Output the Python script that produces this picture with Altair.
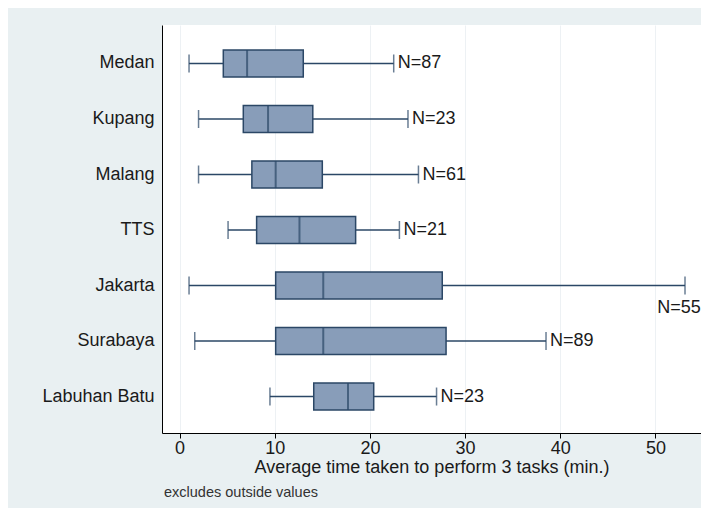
import altair as alt
import pandas as pd

cities = ["Medan", "Kupang", "Malang", "TTS", "Jakarta", "Surabaya", "Labuhan Batu"]
whisker_lo = [1.0, 2.0, 2.0, 5.1, 1.0, 1.6, 9.5]
q1 = [4.6, 6.7, 7.6, 8.1, 10.1, 10.1, 14.1]
median = [7.1, 9.3, 10.1, 12.6, 15.1, 15.1, 17.7]
q3 = [13.0, 14.0, 15.0, 18.5, 27.6, 28.0, 20.4]
whisker_hi = [22.5, 24.0, 25.1, 23.1, 53.1, 38.5, 27.0]
n_obs = [87, 23, 61, 21, 55, 89, 23]
label_below = ["Jakarta"]
x_ticks = [0, 10, 20, 30, 40, 50]

df = pd.DataFrame({
    "city": cities, "lo": whisker_lo, "q1": q1, "med": median,
    "q3": q3, "hi": whisker_hi, "n": n_obs,
})

FONT = "Liberation Sans"
TXT = "#1a1a1a"
FILL = "#889db9"
LINE = "#2b4766"
FS = 18

xs = alt.Scale(domain=[-1.84, 54.78], nice=False, zero=False)
ys = alt.Scale(domain=cities, paddingInner=0.5135, paddingOuter=0.432, align=0.521)

x_axis = alt.Axis(values=x_ticks, grid=True, gridColor="#edf1f4", domainColor="#000000",
                  tickColor="#000000", tickSize=5, labelFontSize=FS, labelFont=FONT,
                  labelColor=TXT, labelPadding=1, title="Average time taken to perform 3 tasks (min.)",
                  titleFont=FONT, titleFontSize=FS, titleFontWeight="normal", titleColor=TXT,
                  titlePadding=1)
y_axis = alt.Axis(title=None, ticks=False, labelFontSize=FS, labelFont=FONT, labelColor=TXT,
                  labelPadding=8, domainColor="#000000", grid=False)

base = alt.Chart(df)

whisk = base.mark_rule(color=LINE, strokeWidth=1.5).encode(
    x=alt.X("lo:Q", scale=xs, axis=x_axis), x2="hi:Q",
    y=alt.Y("city:N", scale=ys, axis=y_axis, sort=cities))

box = base.mark_bar(fill=FILL, stroke=LINE, strokeWidth=1.5).encode(
    x=alt.X("q1:Q", scale=xs), x2="q3:Q", y=alt.Y("city:N", scale=ys, sort=cities))

med = base.mark_tick(color=LINE, thickness=2, size=27).encode(
    x=alt.X("med:Q", scale=xs), y=alt.Y("city:N", scale=ys, sort=cities))

cap_lo = base.mark_tick(color=LINE, thickness=1.5, size=18).encode(
    x=alt.X("lo:Q", scale=xs), y=alt.Y("city:N", scale=ys, sort=cities))
cap_hi = base.mark_tick(color=LINE, thickness=1.5, size=18).encode(
    x=alt.X("hi:Q", scale=xs), y=alt.Y("city:N", scale=ys, sort=cities))

n_right = base.transform_filter(
    ~alt.FieldOneOfPredicate(field="city", oneOf=label_below)
).transform_calculate(lab="'N=' + datum.n").mark_text(
    align="left", baseline="middle", dx=4, font=FONT, fontSize=FS, color=TXT
).encode(x=alt.X("hi:Q", scale=xs), y=alt.Y("city:N", scale=ys, sort=cities), text="lab:N")

n_below = base.transform_filter(
    alt.FieldOneOfPredicate(field="city", oneOf=label_below)
).transform_calculate(lab="'N=' + datum.n").mark_text(
    align="center", baseline="middle", dy=22, dx=-6, font=FONT, fontSize=FS, color=TXT
).encode(x=alt.X("hi:Q", scale=xs), y=alt.Y("city:N", scale=ys, sort=cities), text="lab:N")

note = alt.Chart(pd.DataFrame({"t": ["excludes outside values"]})).mark_text(
    align="left", baseline="middle", font=FONT, fontSize=14.5, color="#333333"
).encode(x=alt.value(2), y=alt.value(468), text="t:N")

chart = alt.layer(whisk, box, med, cap_lo, cap_hi, n_right, n_below, note).properties(
    width=539, height=408,
    padding={"left": 154, "top": 17, "right": 0, "bottom": 75},
    autosize=alt.AutoSizeParams(type="none"),
    background="#e9f0f2",
).configure_view(stroke=None, fill="white")

chart.save("out.html", embed_options={"renderer": "svg", "actions": False})
